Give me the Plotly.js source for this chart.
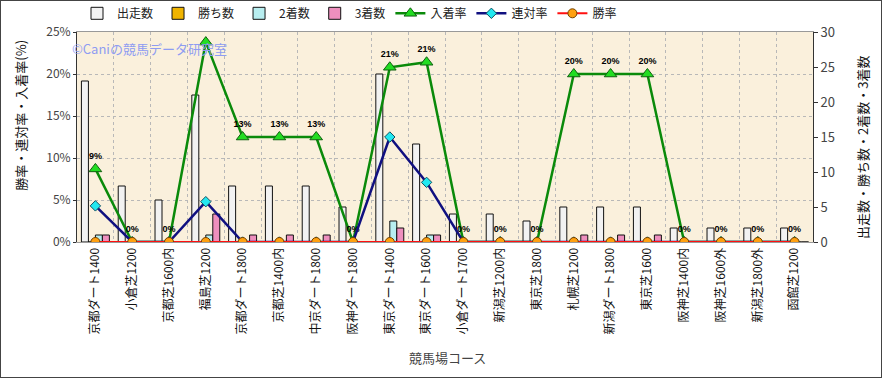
<!DOCTYPE html>
<html>
<head>
<meta charset="utf-8">
<script src="https://cdn.plot.ly/plotly-3.0.1.min.js"></script>
<style>
  html, body { margin: 0; padding: 0; background: #fff; }
  #chart { width: 880px; height: 376px; border: 1px solid #444; }
</style>
</head>
<body>
<div id="chart"></div>
<script>
const categories = ["京都ダート1400","小倉芝1200","京都芝1600内","福島芝1200","京都ダート1800","京都芝1400内","中京ダート1800","阪神ダート1800","東京ダート1400","東京ダート1600","小倉ダート1700","新潟芝1200内","東京芝1800","札幌芝1200","新潟ダート1800","東京芝1600","阪神芝1400内","阪神芝1600外","新潟芝1800外","函館芝1200"];
const runs   = [23, 8, 6, 21, 8, 8, 8, 5, 24, 14, 4, 4, 3, 5, 5, 5, 2, 2, 2, 2];
const wins   = [0, 0, 0, 0, 0, 0, 0, 0, 0, 0, 0, 0, 0, 0, 0, 0, 0, 0, 0, 0];
const second = [1, 0, 0, 1, 0, 0, 0, 0, 3, 1, 0, 0, 0, 0, 0, 0, 0, 0, 0, 0];
const third  = [1, 0, 0, 4, 1, 1, 1, 0, 2, 1, 0, 0, 0, 1, 1, 1, 0, 0, 0, 0];
const placeRate = [8.7, 0, 0, 23.8, 12.5, 12.5, 12.5, 0, 20.8, 21.4, 0, 0, 0, 20, 20, 20, 0, 0, 0, 0];
const rentaiRate = [4.3, 0, 0, 4.8, 0, 0, 0, 0, 12.5, 7.1, 0, 0, 0, 0, 0, 0, 0, 0, 0, 0];
const winRate = [0, 0, 0, 0, 0, 0, 0, 0, 0, 0, 0, 0, 0, 0, 0, 0, 0, 0, 0, 0];
const xTitle = '競馬場コース';
const leftTitle = '勝率・連対率・入着率(%)';
const rightTitle = '出走数・勝ち数・2着数・3着数';
const watermark = '©Caniの競馬データ研究室';

const barLine = {color: '#111', width: 1};
const traces = [
  {type: 'bar', name: '出走数', x: categories, y: runs, yaxis: 'y', marker: {color: '#F2F2F2', line: barLine}},
  {type: 'bar', name: '勝ち数', x: categories, y: wins, yaxis: 'y', marker: {color: '#F0B400', line: barLine}},
  {type: 'bar', name: '2着数', x: categories, y: second, yaxis: 'y', marker: {color: '#B8EEF0', line: barLine}},
  {type: 'bar', name: '3着数', x: categories, y: third, yaxis: 'y', marker: {color: '#EE8FBE', line: barLine}},
  {type: 'scatter', mode: 'lines+markers+text', name: '入着率', x: categories, y: placeRate, yaxis: 'y2',
   line: {color: '#0A8A0A', width: 2.5},
   marker: {symbol: 'triangle-up', size: 11, color: '#22DD22', line: {color: '#106010', width: 1}},
   texttemplate: '%{y:.0f}%', textposition: 'top center',
   textfont: {family: 'Liberation Sans, Arial', size: 9, color: '#000', weight: 'bold'}},
  {type: 'scatter', mode: 'lines+markers', name: '連対率', x: categories, y: rentaiRate, yaxis: 'y2',
   line: {color: '#101080', width: 2.5},
   marker: {symbol: 'diamond', size: 8, color: '#22E8F0', line: {color: '#105060', width: 1}}},
  {type: 'scatter', mode: 'lines+markers', name: '勝率', x: categories, y: winRate, yaxis: 'y2',
   line: {color: '#FF1010', width: 2},
   marker: {symbol: 'circle', size: 9, color: '#FFA010', line: {color: '#704000', width: 1}}}
];

const jp = 'Noto Sans CJK JP, sans-serif';
const layout = {
  width: 880, height: 376,
  margin: {l: 76, r: 68, t: 31, b: 135, autoexpand: false},
  paper_bgcolor: '#FFFFFF',
  plot_bgcolor: '#FAF0DC',
  font: {family: jp, size: 12, color: '#222'},
  barmode: 'group', bargap: 0.24, bargroupgap: 0,
  showlegend: true,
  legend: {orientation: 'h', x: 0, xanchor: 'left', y: 1.02, yanchor: 'bottom',
           font: {family: jp, size: 12, color: '#222'}, bgcolor: 'rgba(0,0,0,0)', traceorder: 'normal'},
  xaxis: {type: 'category', automargin: false, range: [-0.5, categories.length - 0.5], autorange: false,
          tickson: 'boundaries', showgrid: true, gridcolor: '#B8B8B8', griddash: 'dot', gridwidth: 1,
          tickangle: -90, ticks: '', showline: true, linecolor: '#999', mirror: true,
          tickfont: {family: jp, size: 12, color: '#111'}},
  yaxis: {side: 'right', automargin: false, range: [0, 30], dtick: 5, showgrid: false, zeroline: false,
          ticks: 'outside', ticklen: 4, tickcolor: '#333', showline: true, linecolor: '#333',
          tickfont: {family: jp, size: 13, color: '#444'}},
  yaxis2: {overlaying: 'y', side: 'left', automargin: false, range: [0, 25], dtick: 5, ticksuffix: '%', showgrid: true,
           gridcolor: '#B8B8B8', griddash: 'dot', zeroline: false,
           ticks: 'outside', ticklen: 3, tickcolor: '#333', showline: true, linecolor: '#333',
           tickfont: {family: jp, size: 12, color: '#444'}},
  annotations: [
    {xref: 'paper', yref: 'paper', x: -0.01, y: 0.92, xanchor: 'left', yanchor: 'middle', showarrow: false,
     text: watermark, font: {family: jp, size: 13, color: '#8E9CF2'}},
    {xref: 'paper', yref: 'paper', x: 0.504, y: -0.548, xanchor: 'center', yanchor: 'middle', showarrow: false,
     text: xTitle, font: {family: jp, size: 13, color: '#444'}},
    {xref: 'paper', yref: 'paper', x: -0.0765, y: 0.605, xanchor: 'center', yanchor: 'middle', showarrow: false,
     textangle: -90, text: leftTitle, font: {family: jp, size: 13, color: '#111'}},
    {xref: 'paper', yref: 'paper', x: 1.0665, y: 0.452, xanchor: 'center', yanchor: 'middle', showarrow: false,
     textangle: -90, text: rightTitle, font: {family: jp, size: 13, color: '#111'}}
  ]
};

Plotly.newPlot('chart', traces, layout, {displayModeBar: false, responsive: false});
</script>
</body>
</html>
